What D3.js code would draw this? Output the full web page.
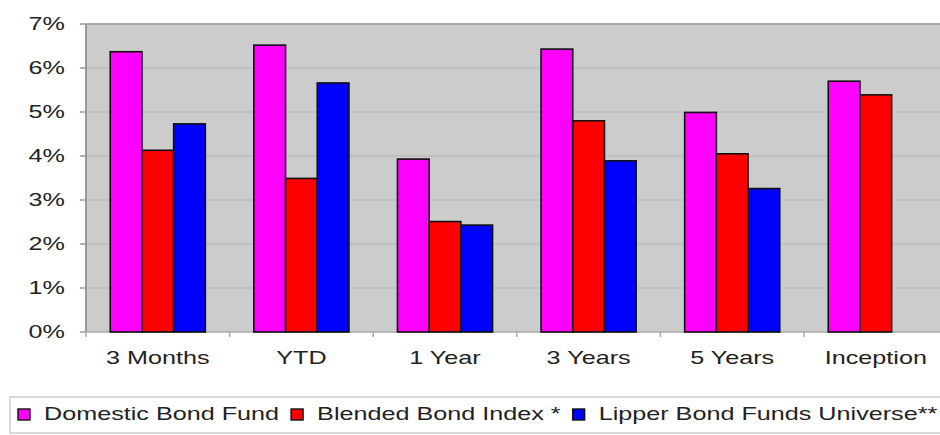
<!DOCTYPE html>
<html lang="en">
<head>
<meta charset="UTF-8">
<title>Bond fund returns</title>
<script src="https://d3js.org/d3.v7.min.js"></script>
<style>
  body { margin: 0; background: #fff; }
  text { font-family: "Liberation Sans", Arial, sans-serif; fill: #222; }
</style>
</head>
<body>
<svg id="chart" width="940" height="435"></svg>
<script>
    const categories = ["3 Months", "YTD", "1 Year", "3 Years", "5 Years", "Inception"];
    const seriesNames = ["Domestic Bond Fund", "Blended Bond Index *", "Lipper Bond Funds Universe**"];
    const domesticFund = [6.37, 6.52, 3.93, 6.43, 4.99, 5.70];
    const blendedIndex = [4.13, 3.49, 2.51, 4.80, 4.05, 5.39];
    const lipperUniverse = [4.73, 5.66, 2.43, 3.89, 3.26, null];
    const yTicks = [0, 1, 2, 3, 4, 5, 6, 7];
    const colors = ["#ff00ff", "#ff0000", "#0000ff"];

    const values = [domesticFund, blendedIndex, lipperUniverse];
    const stretch = 1.4; // the original text is squeezed wide

    const svg = d3.select("#chart");
    const plotLeft = 86, plotTop = 24, plotBottom = 332;
    const catStep = 143.6;

    const x0 = d3.scaleBand().domain(categories)
        .range([plotLeft, plotLeft + catStep * categories.length]).padding(0);
    const x1 = d3.scaleBand().domain(d3.range(seriesNames.length))
        .range([0, x0.bandwidth()]).paddingInner(0).paddingOuter(0.765);
    const y = d3.scaleLinear().domain([0, 7]).range([plotBottom, plotTop]);

    // helper: stretched text
    function wideText(g, x, yy, str, anchor) {
        const t = g.append("g").attr("transform", `translate(${x},${yy}) scale(${stretch},1)`)
            .append("text")
            .attr("text-anchor", anchor)
            .attr("dy", "0.35em")
            .attr("font-size", 18)
            .text(str);
        return t;
    }

    // plot area
    const plotRight = x0.range()[1];
    svg.append("rect")
        .attr("x", plotLeft).attr("y", plotTop)
        .attr("width", plotRight - plotLeft).attr("height", plotBottom - plotTop)
        .attr("fill", "#cccccc");

    // gridlines
    svg.append("g").selectAll("line")
        .data(yTicks.filter(d => d > 0 && d < 7))
        .enter().append("line")
        .attr("x1", plotLeft).attr("x2", plotRight)
        .attr("y1", d => y(d)).attr("y2", d => y(d))
        .attr("stroke", "#bdbdbd").attr("stroke-width", 1.5);

    svg.append("line")
        .attr("x1", plotLeft).attr("x2", plotRight)
        .attr("y1", plotTop).attr("y2", plotTop)
        .attr("stroke", "#a8a8a8").attr("stroke-width", 2);

    // y axis
    const yAxis = svg.append("g");
    yAxis.append("line")
        .attr("x1", plotLeft).attr("x2", plotLeft).attr("y1", plotTop).attr("y2", plotBottom)
        .attr("stroke", "#999").attr("stroke-width", 2);
    yAxis.selectAll(".tick")
        .data(yTicks)
        .enter().append("line")
        .attr("x1", plotLeft - 6).attr("x2", plotLeft)
        .attr("y1", d => y(d)).attr("y2", d => y(d))
        .attr("stroke", "#999").attr("stroke-width", 1.5);
    yTicks.forEach(d => wideText(svg, 65, y(d), d + "%", "end"));

    // x axis
    svg.append("line")
        .attr("x1", plotLeft).attr("x2", plotRight).attr("y1", plotBottom).attr("y2", plotBottom)
        .attr("stroke", "#aaa").attr("stroke-width", 1.5);
    svg.append("g").selectAll("line")
        .data(categories)
        .enter().append("line")
        .attr("x1", d => x0(d)).attr("x2", d => x0(d))
        .attr("y1", plotBottom).attr("y2", plotBottom + 5)
        .attr("stroke", "#aaa").attr("stroke-width", 1.5);
    categories.forEach(c => wideText(svg, x0(c) + x0.bandwidth() / 2, 358, c, "middle"));

    // bars
    const groups = svg.append("g").selectAll("g")
        .data(categories)
        .enter().append("g")
        .attr("transform", d => `translate(${x0(d)},0)`);

    groups.selectAll("rect")
        .data((c, ci) => values.map((s, si) => ({ si, v: s[ci] })).filter(d => d.v != null))
        .enter().append("rect")
        .attr("x", d => x1(d.si))
        .attr("y", d => y(d.v))
        .attr("width", x1.bandwidth())
        .attr("height", d => plotBottom - y(d.v))
        .attr("fill", d => colors[d.si])
        .attr("stroke", "#111")
        .attr("stroke-width", 1.6);

    // legend
    svg.append("rect")
        .attr("x", 10).attr("y", 397).attr("width", 950).attr("height", 36)
        .attr("fill", "#fff").attr("stroke", "#ccc").attr("stroke-width", 1.5);

    let lx = 18;
    seriesNames.forEach((name, i) => {
        svg.append("rect")
            .attr("x", lx).attr("y", 409).attr("width", 12).attr("height", 11)
            .attr("fill", colors[i]).attr("stroke", "#111").attr("stroke-width", 1.4);
        const t = wideText(svg, lx + 26, 414, name, "start");
        lx += 26 + t.node().getComputedTextLength() * stretch + 12;
    });
</script>
</body>
</html>
